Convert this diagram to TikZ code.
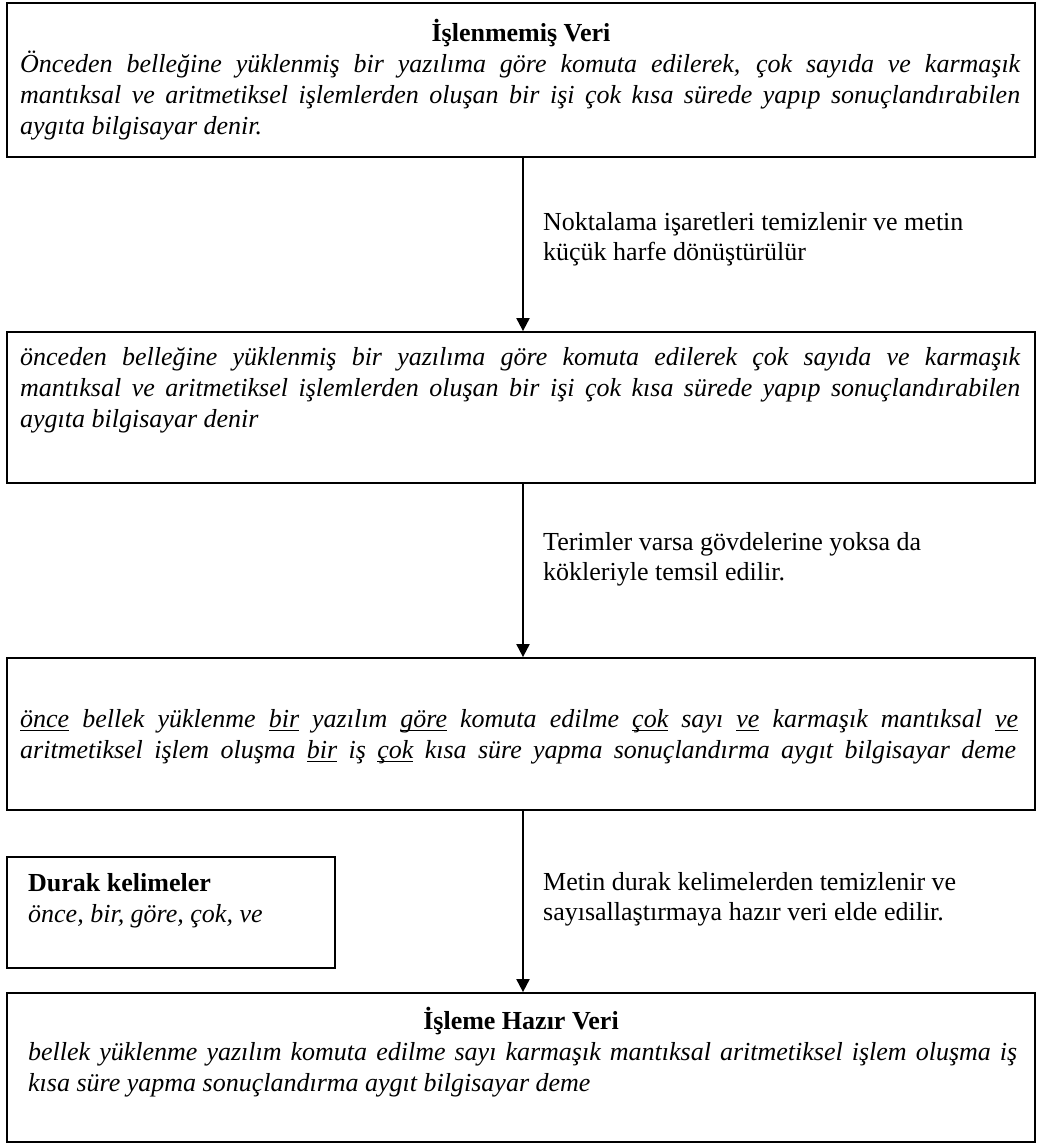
\documentclass[tikz,border=0pt]{standalone}
\usepackage{fontspec}
\setmainfont{Liberation Serif}
\usetikzlibrary{arrows.meta}
\newcommand\jl[2]{\makebox[#1pt][s]{#2}}
\newcommand\uw[1]{\setbox0\hbox{#1}\rlap{\rule[-4pt]{\wd0}{1.4pt}}\box0\relax}
\begin{document}
\begin{tikzpicture}[x=1pt,y=-1pt,
  boxst/.style={draw, line width=1.8pt, inner sep=0pt, fill=none},
  txt/.style={anchor=base west, inner sep=0pt, font=\fontsize{26}{31}\selectfont},
  ttl/.style={anchor=base, inner sep=0pt, font=\fontsize{26}{31}\selectfont\bfseries},
  it/.style={txt, font=\fontsize{26}{31}\selectfont\itshape},
  arr/.style={line width=2pt, -{Triangle[width=13pt,length=13pt]}}]
\fill[white] (0,0) rectangle (1038,1144);
\useasboundingbox (0,0) rectangle (1038,1144);
% boxes
\node[boxst, minimum width=1028pt, minimum height=154pt] (b1) at (521,80) {};
\node[boxst, minimum width=1028pt, minimum height=151pt] (b2) at (521,407.5) {};
\node[boxst, minimum width=1028pt, minimum height=152pt] (b3) at (521,734) {};
\node[boxst, minimum width=1028pt, minimum height=149pt] (b5) at (521,1067.5) {};
\node[boxst, minimum width=328pt, minimum height=111pt] (bd) at (171,912.5) {};
% box 1 text
\node[ttl] (h1) at (521,41) {İşlenmemiş Veri};
\node[it] (l1a) at (20,72) {\jl{1000}{Önceden belleğine yüklenmiş bir yazılıma göre komuta edilerek, çok sayıda ve karmaşık}};
\node[it] (l1b) at (20,103) {\jl{1000}{mantıksal ve aritmetiksel işlemlerden oluşan bir işi çok kısa sürede yapıp sonuçlandırabilen}};
\node[it] (l1c) at (20,134) {aygıta bilgisayar denir.};
% box 2 text
\node[it] (l2a) at (20,365) {\jl{1000}{önceden belleğine yüklenmiş bir yazılıma göre komuta edilerek çok sayıda ve karmaşık}};
\node[it] (l2b) at (20,396) {\jl{1000}{mantıksal ve aritmetiksel işlemlerden oluşan bir işi çok kısa sürede yapıp sonuçlandırabilen}};
\node[it] (l2c) at (20,427) {aygıta bilgisayar denir};
% box 3 text
\node[it] (l3a) at (20,727) {\jl{998}{\uw{önce} bellek yüklenme \uw{bir} yazılım \uw{göre} komuta edilme \uw{çok} sayı \uw{ve} karmaşık mantıksal \uw{ve}}};
\node[it] (l3b) at (20,758) {\jl{996}{aritmetiksel işlem oluşma \uw{bir} iş \uw{çok} kısa süre yapma sonuçlandırma aygıt bilgisayar deme}};
% stop words box
\node[txt, font=\fontsize{26}{31}\selectfont\bfseries] (hd) at (28,891) {Durak kelimeler};
\node[it] (ld) at (28,922) {önce, bir, göre, çok, ve};
% box 5 text
\node[ttl] (h5) at (521,1029) {İşleme Hazır Veri};
\node[it] (l5a) at (28,1060) {\jl{989}{bellek yüklenme yazılım komuta edilme sayı karmaşık mantıksal aritmetiksel işlem oluşma iş}};
\node[it] (l5b) at (28,1091) {kısa süre yapma sonuçlandırma aygıt bilgisayar deme};
% arrows
\coordinate (ax) at (523,0);
\draw[arr] (b1.south -| ax) -- (b2.north -| ax);
\draw[arr] (b2.south -| ax) -- (b3.north -| ax);
\draw[arr] (b3.south -| ax) -- (b5.north -| ax);
% arrow labels
\node[txt] (p1a) at (543,230) {Noktalama işaretleri temizlenir ve metin};
\node[txt] (p1b) at (543,260) {küçük harfe dönüştürülür};
\node[txt] (p2a) at (543,550) {Terimler varsa gövdelerine yoksa da};
\node[txt] (p2b) at (543,580) {kökleriyle temsil edilir.};
\node[txt] (p3a) at (543,890) {Metin durak kelimelerden temizlenir ve};
\node[txt] (p3b) at (543,920) {sayısallaştırmaya hazır veri elde edilir.};
\end{tikzpicture}
\end{document}
